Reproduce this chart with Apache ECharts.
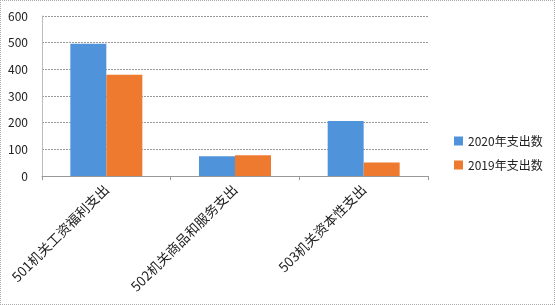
<!DOCTYPE html>
<html><head><meta charset="utf-8">
<script src="https://cdn.jsdelivr.net/npm/echarts@6/dist/echarts.min.js"></script>
<style>html,body{margin:0;padding:0;background:#fff}#c{width:555px;height:305px;box-sizing:border-box;border:1px dotted #aaa}</style>
</head><body><div id="c"></div>
<script>
const categories = ["501机关工资福利支出", "502机关商品和服务支出", "503机关资本性支出"];
const seriesNames = ["2020年支出数", "2019年支出数"];
const values2020 = [496, 74, 206];
const values2019 = [380, 78, 51];
const yTicks = [0, 100, 200, 300, 400, 500, 600];

const chart = echarts.init(document.getElementById('c'), null, {renderer: 'canvas'});
const font = "'Noto Sans CJK SC', 'Noto Sans', sans-serif";
chart.setOption({
  animation: false,
  textStyle: {fontFamily: font},
  grid: {left: 41, right: 126, top: 15, bottom: 128, containLabel: false},
  legend: {
    orient: 'vertical', left: 448, top: 129, itemWidth: 9, itemHeight: 9, itemGap: 12,
    icon: 'rect', textStyle: {fontSize: 12, color: '#222', fontFamily: font},
    data: seriesNames
  },
  xAxis: {
    type: 'category', data: categories,
    axisLine: {lineStyle: {color: '#999'}},
    axisTick: {show: true, length: 4, lineStyle: {color: '#999'}},
    axisLabel: {rotate: 45, fontSize: 13.5, color: '#222', margin: 11, interval: 0, fontFamily: font}
  },
  yAxis: {
    type: 'value', min: yTicks[0], max: yTicks[yTicks.length - 1], interval: 100,
    axisLine: {show: true, lineStyle: {color: '#bbb'}},
    axisTick: {show: false},
    axisLabel: {fontSize: 12, color: '#222', margin: 14, fontFamily: font},
    splitLine: {lineStyle: {color: '#999', type: [2, 1], width: 1}}
  },
  series: [
    {name: seriesNames[0], type: 'bar', data: values2020, barWidth: 36, barGap: '0%',
     itemStyle: {color: '#4F94DB'}},
    {name: seriesNames[1], type: 'bar', data: values2019, barWidth: 36,
     itemStyle: {color: '#EE7A30'}}
  ]
});
</script></body></html>
